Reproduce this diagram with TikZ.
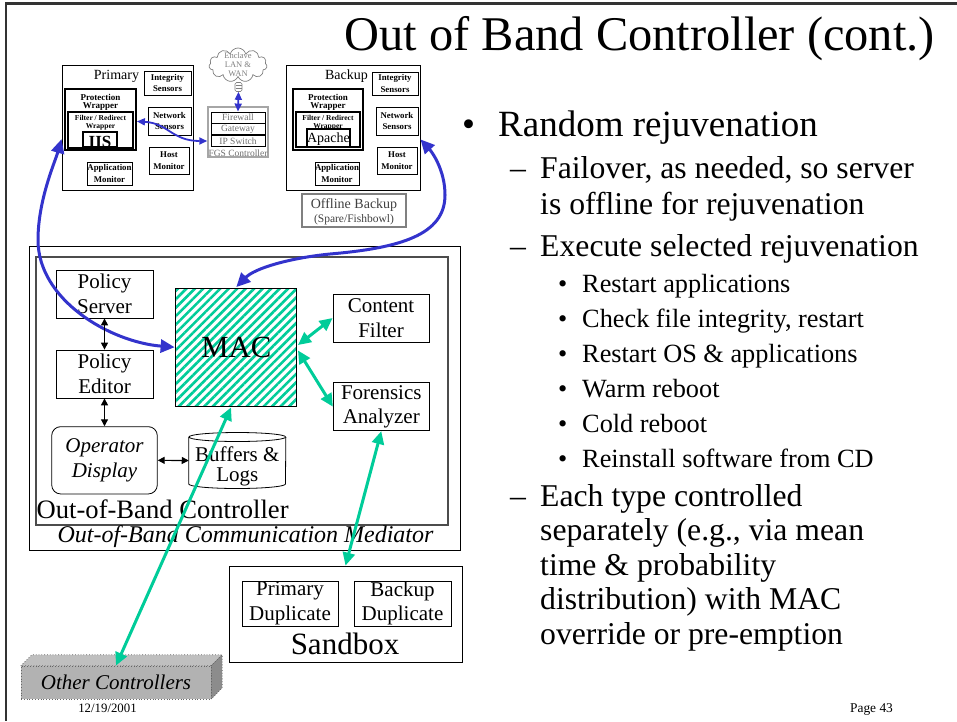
\documentclass[tikz,border=0pt]{standalone}
\usepackage{fontspec}
\setmainfont{Liberation Serif}
\usetikzlibrary{arrows.meta,shapes.symbols,patterns.meta,calc}
\definecolor{macgreen}{RGB}{0,204,153}
\definecolor{linkblue}{RGB}{51,51,204}
\definecolor{fgsgray}{RGB}{110,110,110}
\definecolor{offgray}{RGB}{64,64,64}
\begin{document}
\begin{tikzpicture}[x=1pt, y=-1pt,
  box/.style={draw, rectangle, inner sep=0pt, align=center},
  sensor/.style={box, line width=0.9pt, font=\bfseries\fontsize{8.8}{11.5}\selectfont},
  wraptxt/.style={inner sep=0pt, align=center, font=\bfseries\fontsize{9}{8.7}\selectfont},
  filttxt/.style={inner sep=0pt, align=center, font=\bfseries\fontsize{7.5}{8}\selectfont},
  fgsrow/.style={draw, line width=0.6pt, minimum width=54, minimum height=11.3, inner sep=0pt, text=fgsgray, font=\fontsize{9.5}{10}\selectfont},
  ctlbox/.style={box, line width=0.8pt, font=\fontsize{21}{24.5}\selectfont},
  bluearrow/.style={draw=linkblue, line width=3pt, {Triangle[length=14pt,width=13pt]}-{Triangle[length=14pt,width=13pt]}},
  thinblue/.style={draw=linkblue, line width=1.8pt, {Triangle[length=8pt,width=7pt]}-{Triangle[length=8pt,width=7pt]}},
  greenarrow/.style={draw=macgreen, line width=3pt, {Triangle[length=13pt,width=12pt]}-{Triangle[length=13pt,width=12pt]}},
  blackarrow/.style={draw=black, line width=1.2pt, {Triangle[length=7pt,width=7pt]}-{Triangle[length=7pt,width=7pt]}},
  lvlone/.style={anchor=base west, inner sep=0pt, font=\fontsize{37}{37}\selectfont},
  lvltwo/.style={anchor=base west, inner sep=0pt, font=\fontsize{31.7}{31.7}\selectfont},
  lvlthree/.style={anchor=base west, inner sep=0pt, font=\fontsize{26.3}{26.3}\selectfont}]
\useasboundingbox (0,0) rectangle (957,721);

% slide frame and title
\draw[line width=2.5pt, black!80] (957,3.5) -- (6,3.5) -- (6,721);
\node[anchor=base east, inner sep=0pt, font=\fontsize{48.4}{48.4}\selectfont] (title) at (935,50) {Out of Band Controller (cont.)};

% primary server
\node[box, line width=0.9pt, minimum width=131, minimum height=125] (prim) at (127.5,127.5) {};
\node[anchor=base, inner sep=0pt, font=\fontsize{14}{14}\selectfont] (primlbl) at (116.5,79) {Primary};
\node[sensor, minimum width=47, minimum height=24] (primint) at (167.5,83) {Integrity\\Sensors};
\node[box, line width=1.8pt, minimum width=71, minimum height=61] (primprot) at (100.5,119.5) {};
\node[wraptxt] (primprottxt) at (100.5,102.3) {Protection\\Wrapper};
\node[box, line width=1.2pt, minimum width=65, minimum height=36] (primfilt) at (100.5,130) {};
\node[filttxt] (primfilttxt) at (100.5,123) {Filter / Redirect\\Wrapper};
\node[box, line width=1.8pt, fill=white, minimum width=34, minimum height=15] (primiis) at (100,139.5) {};
\node[anchor=base, inner sep=0pt, font=\bfseries\fontsize{17}{17}\selectfont] (primiistxt) at (100,147) {IIS};
\node[sensor, minimum width=43, minimum height=28] (primnet) at (169.5,121) {Network\\Sensors};
\node[sensor, minimum width=40, minimum height=27] (primhost) at (169,160.5) {Host\\Monitor};
\node[sensor, minimum width=45, minimum height=23] (primapp) at (109.5,173.5) {Application\\Monitor};

% backup server
\node[box, line width=0.9pt, minimum width=134, minimum height=125] (bak) at (353,127.5) {};
\node[anchor=base, inner sep=0pt, font=\fontsize{14}{14}\selectfont] (baklbl) at (346.5,79) {Backup};
\node[sensor, minimum width=46, minimum height=23] (bakint) at (395,83.5) {Integrity\\Sensors};
\node[box, line width=1.8pt, minimum width=70, minimum height=61] (bakprot) at (328,119.5) {};
\node[wraptxt] (bakprottxt) at (328,102.3) {Protection\\Wrapper};
\node[box, line width=1.2pt, minimum width=64, minimum height=35] (bakfilt) at (328,129.5) {};
\node[filttxt] (bakfilttxt) at (328,123) {Filter / Redirect\\Wrapper};
\node[box, line width=1.2pt, fill=white, minimum width=43, minimum height=18] (bakapache) at (328.5,138) {};
\node[anchor=base, inner sep=0pt, font=\fontsize{14}{14}\selectfont] (bakapachetxt) at (328.5,142.5) {Apache};
\node[sensor, minimum width=42, minimum height=28] (baknet) at (397,121) {Network\\Sensors};
\node[sensor, minimum width=40, minimum height=27] (bakhost) at (397,160.5) {Host\\Monitor};
\node[sensor, minimum width=44, minimum height=23] (bakapp) at (337,173.5) {Application\\Monitor};
\node[box, draw=gray, line width=1.3pt, minimum width=104, minimum height=33] (offline) at (354,210.5) {};
\node[anchor=base, inner sep=0pt, text=offgray, font=\fontsize{14}{14}\selectfont] (offlinetxt) at (354,208.3) {Offline Backup};
\node[anchor=base, inner sep=0pt, text=offgray, font=\fontsize{11.5}{11.5}\selectfont] (fishbowl) at (354,222.7) {(Spare/Fishbowl)};

% enclave network and FGS controller
\node[cloud, draw=gray, cloud puffs=11, line width=0.7pt, minimum width=58, minimum height=34, inner sep=0pt] (cloud) at (238,65) {};
\node[inner sep=0pt, align=center, text=gray, font=\fontsize{8.5}{9}\selectfont] (cloudtxt) at (238,64.5) {Enclave\\LAN \&\\WAN};
\node[draw=gray, fill=white, line width=0.6pt, rounded corners=1.5pt, minimum width=7, minimum height=9, inner sep=0pt] (plug) at (238.5,87) {};
\draw[gray, line width=0.5pt] (235.5,85) -- (241.5,85) (235.5,88) -- (241.5,88);
\node[draw=gray!70, line width=1.5pt, minimum width=60, minimum height=50, inner sep=0pt] (fgs) at (238,132) {};
\node[fgsrow] (fw) at (238,117.5) {Firewall};
\node[fgsrow] (gw) at (238,129) {Gateway};
\node[fgsrow] (ip) at (238,141) {IP Switch};
\node[anchor=base, inner sep=0pt, text=fgsgray, font=\fontsize{9.5}{9.5}\selectfont] (fgslbl) at (238,156) {FGS Controller};

% mediator and controller frames
\node[box, line width=0.8pt, minimum width=431, minimum height=304] (med) at (244.5,398) {};
\node[box, draw=black!70, line width=1.2pt, minimum width=412, minimum height=268] (obc) at (242,391) {};
\node[anchor=base west, inner sep=0pt, font=\fontsize{26.6}{26.6}\selectfont] (obclbl) at (36.5,518) {Out-of-Band Controller};
\node[anchor=base, inner sep=0pt, font=\itshape\fontsize{24}{24}\selectfont] (medlbl) at (245.5,542) {Out-of-Band Communication Mediator};

% controller parts
\node[ctlbox, minimum width=97, minimum height=48] (ps) at (104.5,294) {Policy\\Server};
\node[ctlbox, minimum width=97, minimum height=48] (pe) at (104.5,374) {Policy\\Editor};
\node[ctlbox, rounded corners=9pt, minimum width=105.6, minimum height=67.3, font=\itshape\fontsize{21}{24.3}\selectfont] (od) at (104.5,460.3) {Operator\\Display};
\node[inner sep=0pt, minimum width=96.7, minimum height=55.6] (buf) at (237.3,460.5) {};
\draw[line width=0.8pt] ($(buf.north west)+(0,4.5)$) -- ($(buf.south west)+(0,-4.5)$)
  arc[start angle=180, end angle=0, x radius=48.35, y radius=4.5] -- ($(buf.north east)+(0,4.5)$);
\draw[line width=0.8pt] ($(buf.north)+(0,4.5)$) ellipse [x radius=48.35, y radius=4.5];
\node[inner sep=0pt, align=center, font=\fontsize{21}{20.5}\selectfont] (buftxt) at (237.3,466.5) {Buffers \&\\Logs};
\node[box, line width=1pt, pattern={Lines[angle=45,distance=6pt,line width=2.6pt]}, pattern color=macgreen,
  minimum width=120.7, minimum height=117.7, font=\fontsize{30.7}{30.7}\selectfont] (mac) at (236.3,347.2) {MAC};
\node[ctlbox, minimum width=96, minimum height=48] (cf) at (381,318) {Content\\Filter};
\node[ctlbox, minimum width=96, minimum height=48] (fa) at (381.3,406.7) {Forensics\\Analyzer};

% sandbox
\node[box, line width=0.8pt, minimum width=233, minimum height=96] (sandbox) at (345.5,614) {};
\node[ctlbox, minimum width=96, minimum height=45] (pd) at (290,603.5) {Primary\\Duplicate};
\node[ctlbox, minimum width=97, minimum height=45] (bd) at (402.5,603.5) {Backup\\Duplicate};
\node[anchor=base, inner sep=0pt, font=\fontsize{31}{31}\selectfont] (sandboxlbl) at (345,654) {Sandbox};

% other controllers
\node[inner sep=0pt, minimum width=190, minimum height=33] (ocgeo) at (116,682.5) {};
\fill[gray!50, draw=black!60, dotted, line width=0.8pt] (ocgeo.north west) -- ++(11,-11) -- ++(190,0) -- (ocgeo.north east) -- cycle;
\fill[gray!90, draw=black!60, dotted, line width=0.8pt] (ocgeo.north east) -- ++(11,-11) -- ++(0,33) -- (ocgeo.south east) -- cycle;
\node[fill=gray!60, draw=black!60, dotted, line width=0.8pt, minimum width=190, minimum height=33, inner sep=0pt,
  font=\itshape\fontsize{21}{21}\selectfont] (oc) at (116,682.5) {Other Controllers};

% footer
\node[anchor=base, inner sep=0pt, font=\fontsize{12.8}{12.8}\selectfont] (date) at (107.5,712) {12/19/2001};
\node[anchor=base, inner sep=0pt, font=\fontsize{13.4}{13.4}\selectfont] (page) at (871.5,712) {Page 43};

% connectors
\draw[thinblue] (plug.south) -- (fw.north);
\draw[thinblue] (fgs.west |- ip.west) .. controls (172,141) and (168,123) .. (primprot.-3);
\draw[bluearrow] (prim.190) .. controls (55,162) and (38,200) .. (38,240) .. controls (38,300) and (110,342) .. (mac.west);
\draw[bluearrow] (mac.north) .. controls (255,268) and (290,258) .. (330,254) .. controls (400,248) and (445,235) .. (445,195) .. controls (445,170) and (432,152) .. (bak.-10);
\draw[blackarrow] (ps.south) -- (pe.north);
\draw[blackarrow] (pe.south) -- (od.north);
\draw[blackarrow] (od.east) -- (buf.west);
\draw[greenarrow] (mac.2) -- (cf.west);
\draw[greenarrow] (mac.-3) -- (fa.west);
\draw[greenarrow] (fa.south) -- (sandbox.north);
\draw[greenarrow] (mac.265) -- (oc.north);

% bullet list
\node[lvlone] (dot1) at (462,136) {•};
\node[lvlone] (rand) at (498,136) {Random rejuvenation};
\node[lvltwo] (dash1) at (510,178) {–};
\node[lvltwo] (fail) at (540,178) {Failover, as needed, so server};
\node[lvltwo] (failb) at (540,214.6) {is offline for rejuvenation};
\node[lvltwo] (dash2) at (510,256.6) {–};
\node[lvltwo] (exec) at (540,256.6) {Execute selected rejuvenation};
\foreach \txt [count=\i] in {Restart applications, {Check file integrity, restart}, Restart OS \& applications, Warm reboot, Cold reboot, Reinstall software from CD} {
  \node[lvlthree] (subdot\i) at (558,{292+(\i-1)*35.1}) {•};
  \node[lvlthree] (sub\i) at (582,{292+(\i-1)*35.1}) {\txt};
}
\node[lvltwo] (dash3) at (510,506.6) {–};
\foreach \txt [count=\i] in {Each type controlled, {separately (e.g., via mean}, time \& probability, distribution) with MAC, override or pre-emption} {
  \node[lvltwo] (each\i) at (540,{506.6+(\i-1)*34.35}) {\txt};
}
\end{tikzpicture}
\end{document}
